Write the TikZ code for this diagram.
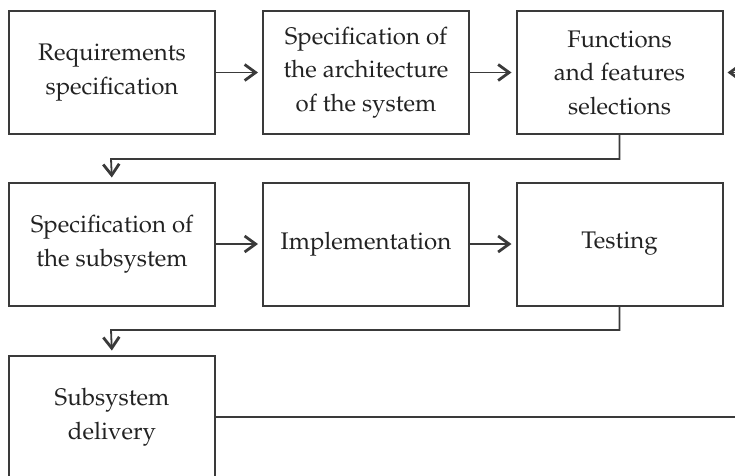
\documentclass[tikz,border=0pt]{standalone}
\IfFileExists{mathpazo.sty}{\usepackage[T1]{fontenc}\usepackage{mathpazo}}{\usepackage{fontspec}\setmainfont{Liberation Serif}}
\usetikzlibrary{arrows.meta}
\definecolor{ln}{HTML}{3A3A3A}
\definecolor{tx}{HTML}{222222}
\tikzset{
  stepbox/.style={draw=ln, line width=2pt, minimum width=206pt, minimum height=123pt,
    inner sep=0pt, align=center, text=tx, font=\fontsize{24}{33.5}\selectfont},
  conn/.style={draw=ln, line width=1.8pt},
  arr/.style={conn, -{Straight Barb[length=11pt,width=16pt,line width=2.8pt]}, shorten >=4pt}
}
\begin{document}
\begin{tikzpicture}[x=1pt,y=-1pt]
\useasboundingbox (0,0) rectangle (735,475);
\clip (0,0) rectangle (735,475);
\node[stepbox] (req) at (112,72.5) {Requirements\\specification};
\node[stepbox] (arch) at (366,72.5) {Specification of\\the architecture\\of the system};
\node[stepbox] (func) at (619.5,72.5) {Functions\\and features\\selections};
\node[stepbox] (sub) at (112,244) {Specification of\\the subsystem};
\node[stepbox] (impl) at (366,244) {Implementation};
\node[stepbox] (test) at (619.5,244) {Testing};
\node[stepbox] (deliv) at (112,417) {Subsystem\\delivery};
\coordinate (fb) at (760,72.5);
\coordinate (out) at (760,417);
\draw[arr] (req) -- (arch);
\draw[arr] (arch) -- (func);
\draw[arr] (fb) -- (func);
\draw[arr] (func.south) |- (111,159) -- (sub.north);
\draw[arr] (sub) -- (impl);
\draw[arr] (impl) -- (test);
\draw[arr] (test.south) |- (111,330) -- (deliv.north);
\draw[conn] (deliv.east) -- (out);
\end{tikzpicture}
\end{document}
